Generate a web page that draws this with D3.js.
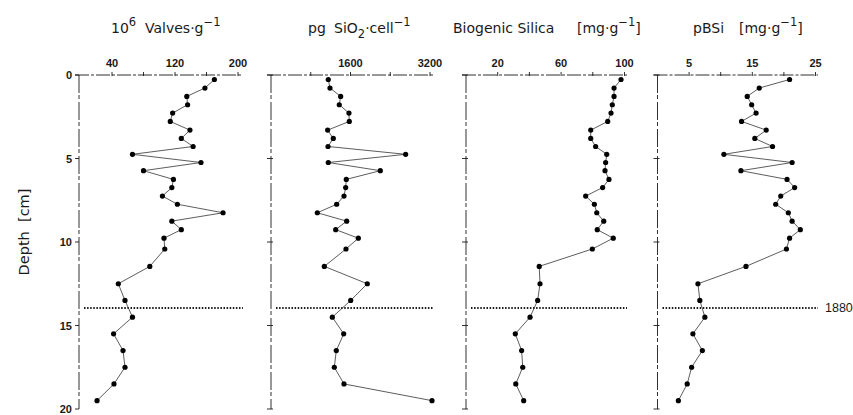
<!DOCTYPE html>
<html><head><meta charset="utf-8">
<script src="https://cdn.jsdelivr.net/npm/d3@7"></script>
<style>
body{margin:0;background:#fff;}
svg{display:block;font-family:"Liberation Sans",Arial,sans-serif;}
</style></head>
<body><svg id="c" width="853" height="415"></svg>
<script>
// ---- data ----
const depths = [0.27,0.78,1.28,1.78,2.28,2.78,3.3,3.8,4.28,4.75,5.24,5.73,6.25,6.74,7.25,7.74,8.25,8.75,9.26,9.77,10.42,11.46,12.5,13.5,14.5,15.5,16.5,17.5,18.5,19.5];
const valves = [170,158,135,136,117,114,139,128,143,66,153,80,118,116,104,123,181,116,128,106,107,88,48,56.5,66,42,54,56.5,42.5,21];
const pgSiO2 = [1153,1187,1402,1374,1569,1576,1140,1254,1147,2710,1153,2200,1515,1503,1469,1322,932,1523,1302,1757,1509,1073,1938,1604,1234,1463,1314,1274,1469,3240];
const bsi = [97.8,93.4,93.4,92.3,91.5,89.4,78.7,78.7,81.8,88.8,88.1,87.7,90.2,86.2,75.5,81,82.5,86.9,82.8,92.9,79.7,46.2,46.7,45.2,40.4,31.1,35.1,35.8,31.4,36.4];
const pbsi = [20.9,16.1,14.2,14.9,15.6,13.3,17.2,15.4,18.2,10.5,21.3,13.2,20.5,21.7,19.5,18.7,20.7,21.3,22.6,20.9,20.4,14.0,6.4,6.7,7.5,5.6,7.1,5.4,4.7,3.3];
const depthTicks = [0,5,10,15,20];
const markerDepth = 13.95;
const markerLabel = "1880";
const yLabel = "Depth  [cm]";

const panels = [
  {values: valves, domain:[0,200], range:[80.5,238], axisEnd:243, ticks:[40,80,120,160,200], labels:[40,120,200],
   title:[{x:111,parts:[["10",0],["6",1]]},{x:145,parts:[["Valves·g",0],["−1",1]]}]},
  {values: pgSiO2, domain:[0,3200], range:[271,430], axisEnd:433, ticks:[800,1600,2400,3200], labels:[1600,3200],
   title:[{x:308,parts:[["pg",0]]},{x:334,parts:[["SiO",0],["2",-1],["·cell",0],["−1",1]]}]},
  {values: bsi, domain:[0,100], range:[466,624.5], axisEnd:627, ticks:[20,40,60,80,100], labels:[20,60,100],
   title:[{x:453,parts:[["Biogenic Silica",0]]},{x:577,parts:[["[mg·g",0],["−1",1],["]",0]]}]},
  {values: pbsi, domain:[0,25], range:[657.5,815.5], axisEnd:818, ticks:[5,10,15,20,25], labels:[5,15,25],
   title:[{x:693,parts:[["pBSi",0]]},{x:739,parts:[["[mg·g",0],["−1",1],["]",0]]}]}
];

const svg = d3.select("#c");
const y = d3.scaleLinear().domain([0,20]).range([75,409]);
const ink = "#1a1a1a";

panels.forEach((p,i)=>{
  const x = d3.scaleLinear().domain(p.domain).range(p.range);
  const x0 = i===0 ? 79 : p.range[0];
  const g = svg.append("g");
  // top axis
  g.append("line").attr("x1",x0-4).attr("x2",p.axisEnd).attr("y1",y(0)).attr("y2",y(0))
    .attr("stroke",ink).attr("stroke-width",0.9).attr("stroke-dasharray","14,2,3,2");
  g.selectAll(".xt").data(p.ticks).join("line")
    .attr("x1",d=>x(d)).attr("x2",d=>x(d)).attr("y1",y(0)-3).attr("y2",y(0)+1)
    .attr("stroke",ink).attr("stroke-width",0.9);
  g.selectAll(".xl").data(p.labels).join("text")
    .attr("x",d=>x(d)).attr("y",y(0)-8).attr("text-anchor","middle")
    .attr("font-size",11).attr("font-weight","bold").attr("fill",ink).text(d=>d);
  // left axis
  g.append("line").attr("x1",x0).attr("x2",x0).attr("y1",y(0)).attr("y2",y(20))
    .attr("stroke",ink).attr("stroke-width",0.9).attr("stroke-dasharray","18,2,4,3");
  g.selectAll(".yt").data(depthTicks).join("line")
    .attr("x1",x0-4).attr("x2",i===0?x0:x0+2).attr("y1",d=>y(d)).attr("y2",d=>y(d))
    .attr("stroke",ink).attr("stroke-width",0.9);
  if(i===0){
    g.selectAll(".yl").data(depthTicks).join("text")
      .attr("x",x0-7).attr("y",d=>y(d)+4).attr("text-anchor","end")
      .attr("font-size",11).attr("font-weight","bold").attr("fill",ink).text(d=>d);
  }
  // marker line
  g.append("line").attr("x1",x0+5).attr("x2",p.axisEnd).attr("y1",y(markerDepth)).attr("y2",y(markerDepth))
    .attr("stroke",ink).attr("stroke-width",2).attr("stroke-dasharray","1.5,1.6");
  // profile line
  const pts = p.values.map((v,k)=>[x(v),y(depths[k])]);
  g.append("path").attr("d",d3.line()(pts)).attr("fill","none")
    .attr("stroke","#333").attr("stroke-width",0.8);
  g.selectAll(".pt").data(pts).join("circle")
    .attr("cx",d=>d[0]).attr("cy",d=>d[1]).attr("r",2.6).attr("fill","#000");
  // title
  p.title.forEach(seg=>{
    const t = g.append("text").attr("x",seg.x).attr("y",33).attr("font-size",14)
      .attr("font-family","'DejaVu Sans',sans-serif").attr("fill",ink);
    let cur=0;
    seg.parts.forEach(([s,sh])=>{
      const target = sh===1?-7:(sh===-1?5:0);
      const ts = t.append("tspan").text(s).attr("dy",target-cur);
      if(sh!==0) ts.attr("font-size",11.5);
      cur=target;
    });
  });
});

svg.append("text").attr("x",825).attr("y",y(markerDepth)+4.5).attr("font-size",12.5).attr("fill",ink).text(markerLabel);
svg.append("text").attr("transform",`translate(29,232) rotate(-90)`).attr("text-anchor","middle")
  .attr("font-family","'DejaVu Sans',sans-serif").attr("font-size",14.5).attr("fill",ink)
  .style("white-space","pre").text(yLabel);
</script></body></html>
